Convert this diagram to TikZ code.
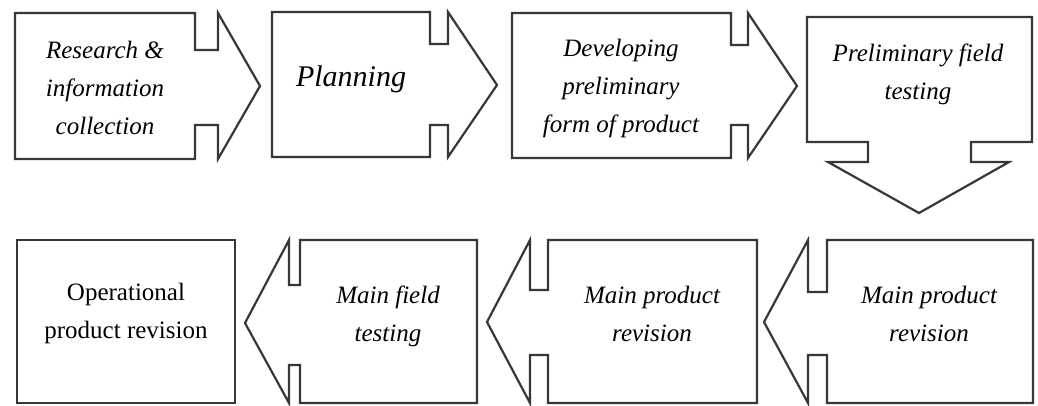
\documentclass[tikz,border=0pt]{standalone}
\usepackage{fontspec}
\setmainfont{Liberation Serif}
\usepackage{tikz}
\usetikzlibrary{positioning, calc}

\definecolor{edgegray}{RGB}{55,55,55}

\tikzset{
  blockarrow/.style={draw=edgegray, line width=2.2pt, line join=miter, fill=white},
  lbl/.style={font=\itshape\fontsize{25}{38}\selectfont, align=center, inner sep=0pt},
}

\begin{document}
\begin{tikzpicture}[
  x=1pt, y=-1pt,
  biglbl/.style={lbl, font=\itshape\fontsize{30}{38}\selectfont},
  uplbl/.style={lbl, font=\upshape\fontsize{25}{38}\selectfont}
]
\useasboundingbox (0,0) rectangle (1038,405);

% ---- top row: arrows pointing right ----
\draw[blockarrow] (15,13) -- (195,13) -- (195,50) -- (218,50) -- (218,13) -- (260,86)
  -- (218,159) -- (218,125) -- (195,125) -- (195,159) -- (15,159) -- cycle;
\draw[blockarrow] (272,12) -- (430,12) -- (430,44) -- (448,44) -- (448,12) -- (497,85)
  -- (448,157) -- (448,125) -- (430,125) -- (430,157) -- (272,157) -- cycle;
\draw[blockarrow] (512,13) -- (731,13) -- (731,45) -- (748,45) -- (748,13) -- (797,86)
  -- (748,158) -- (748,125) -- (731,125) -- (731,158) -- (512,158) -- cycle;

% ---- turn down ----
\draw[blockarrow] (807,17) -- (1032,17) -- (1032,142) -- (971,142) -- (971,162) -- (1009,162)
  -- (919,213) -- (828,162) -- (868,162) -- (868,142) -- (807,142) -- cycle;

% ---- bottom row: arrows pointing left ----
\draw[blockarrow] (1033,240) -- (1033,403) -- (827,403) -- (827,355) -- (808,355) -- (808,403)
  -- (764,322) -- (808,240) -- (808,292) -- (827,292) -- (827,240) -- cycle;
\draw[blockarrow] (757,240) -- (757,403) -- (548,403) -- (548,355) -- (530,355) -- (530,403)
  -- (487,322) -- (530,240) -- (530,290) -- (548,290) -- (548,240) -- cycle;
\draw[blockarrow] (477,240) -- (477,403) -- (300,403) -- (300,365) -- (289,365) -- (289,403)
  -- (245,323) -- (289,240) -- (289,285) -- (300,285) -- (300,240) -- cycle;
\draw[blockarrow] (17,240) rectangle (235,403);

% ---- labels ----
\node[lbl]    (research) at (105,88)  {Research \&\\information\\collection};
\node[biglbl] (planning) at (351,79)  {Planning};
\node[lbl]    (develop)  at (621,88)  {Developing\\preliminary\\form of product};
\node[lbl]    (prelim)   at (918,74)  {Preliminary field\\testing};
\node[lbl]    (mainrev1) at (929,314) {Main product\\revision};
\node[lbl]    (mainrev2) at (652,314) {Main product\\revision};
\node[lbl]    (mainfield) at (388,316) {Main field\\testing};
\node[uplbl]  (operrev)  at (126,313) {Operational\\product revision};

\end{tikzpicture}
\end{document}
